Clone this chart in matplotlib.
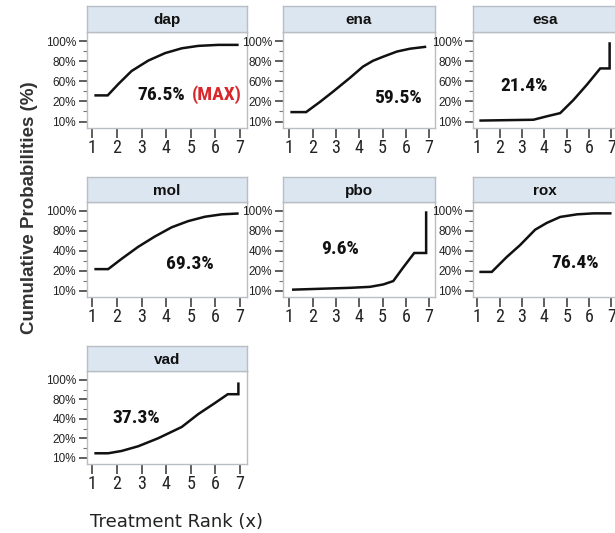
import os
import numpy as np
import matplotlib
matplotlib.use("Agg")
import matplotlib.pyplot as plt
from matplotlib import font_manager
from matplotlib.font_manager import FontProperties
from matplotlib.scale import FuncScale

# ---------------- data ----------------
treatments = ["dap", "ena", "esa", "mol", "pbo", "rox", "vad"]
sucra_labels = ["76.5%", "59.5%", "21.4%", "69.3%", "9.6%", "76.4%", "37.3%"]

ticks_a = [10, 20, 60, 80, 100]
ticks_b = [10, 20, 40, 80, 100]

rank_dap = [1.13, 1.62, 2.05, 2.59, 3.27, 3.95, 4.63, 5.30, 6.11, 6.89]
cum_dap = [32, 32, 54.4, 70.2, 80.6, 88, 92.8, 95.2, 96.2, 96.2]

rank_ena = [1.10, 1.72, 2.32, 2.88, 3.61, 4.16, 4.59, 5.02, 5.62, 6.18, 6.82]
cum_ena = [14.7, 14.7, 19.8, 39.6, 63.6, 74.6, 80.4, 84.4, 89.6, 92.4, 94.2]

rank_esa = [1.15, 3.51, 4.11, 4.71, 5.30, 5.91, 6.5, 6.92, 6.92]
cum_esa = [10.5, 10.9, 12.6, 14.2, 22.8, 53.6, 72.8, 72.8, 97.6]

rank_mol = [1.13, 1.64, 2.19, 2.86, 3.54, 4.22, 4.89, 5.57, 6.25, 6.89]
cum_mol = [21.6, 21.6, 32, 48, 68.8, 83.6, 89.8, 94.2, 96.6, 97.4]

rank_pbo = [1.17, 3.6, 4.46, 5.03, 5.46, 5.89, 6.36, 6.87, 6.87]
cum_pbo = [10.5, 11.4, 11.9, 13.1, 14.8, 23.4, 37.8, 37.8, 98.4]

rank_rox = [1.15, 1.65, 2.32, 2.91, 3.59, 4.11, 4.71, 5.46, 6.2, 6.95]
cum_rox = [19.4, 19.4, 33.8, 51.2, 81.2, 88, 94, 96.6, 97.6, 97.6]

rank_vad = [1.13, 1.64, 2.19, 2.86, 3.67, 4.63, 5.30, 5.98, 6.5, 6.93, 6.93]
cum_vad = [12.3, 12.3, 13.5, 15.9, 20, 31.6, 49.6, 72.4, 85.2, 85.2, 96]

x_ticks = [1, 2, 3, 4, 5, 6, 7]

# ---------------- fonts ----------------
names = {f.name for f in font_manager.fontManager.ttflist}
REG = "Liberation Sans" if "Liberation Sans" in names else "DejaVu Sans"
plt.rcParams["font.family"] = [REG, "DejaVu Sans"]

files = {os.path.basename(f.fname): f.fname for f in font_manager.fontManager.ttflist}


def pick(cands):
    for c in cands:
        if c in files:
            return files[c]
    return None


narrow_reg = pick(["LiberationSansNarrow-Regular.ttf", "RobotoCondensed-Regular.ttf",
                   "NotoSans-Condensed.ttf", "DejaVuSansCondensed.ttf"])
narrow_bold = pick(["LiberationSansNarrow-Bold.ttf", "RobotoCondensed-Bold.ttf",
                    "NotoSans-CondensedBold.ttf", "DejaVuSansCondensed-Bold.ttf"])


def fp_narrow(size, bold=False):
    f = narrow_bold if bold else narrow_reg
    if f is not None:
        return FontProperties(fname=f, size=size)
    return FontProperties(family=REG, size=size * 0.85,
                          weight="bold" if bold else "normal")


def make_scale(tv):
    tv = np.asarray(tv, float)
    pos = np.arange(len(tv), dtype=float)

    def fwd(v):
        v = np.asarray(v, float)
        out = np.interp(v, tv, pos)
        out = np.where(v < tv[0], (v - tv[0]) / (tv[1] - tv[0]), out)
        out = np.where(v > tv[-1], pos[-1] + (v - tv[-1]) / (tv[-1] - tv[-2]), out)
        return out

    def inv(p):
        p = np.asarray(p, float)
        out = np.interp(p, pos, tv)
        out = np.where(p < 0, tv[0] + p * (tv[1] - tv[0]), out)
        out = np.where(p > pos[-1], tv[-1] + (p - pos[-1]) * (tv[-1] - tv[-2]), out)
        return out

    return fwd, inv


W, H = 615, 533
fig = plt.figure(figsize=(W / 100, H / 100), dpi=100)


def fr(l, t, r, b):
    return [l / W, 1 - b / H, (r - l) / W, (b - t) / H]


cols = [(87, 247, 0.78, 7.28), (283, 435, 0.73, 7.25), (473, 617, 0.81, 7.25)]
rows = [(6, 32, 128), (177, 202, 297), (346, 371, 464)]

panels = [
    ("dap", rank_dap, cum_dap, ticks_a, 0, 0, (4.76, 32.8)),
    ("ena", rank_ena, cum_ena, ticks_a, 0, 1, (5.64, 26.0)),
    ("esa", rank_esa, cum_esa, ticks_a, 0, 2, (3.09, 50.8)),
    ("mol", rank_mol, cum_mol, ticks_b, 1, 0, (4.95, 26.4)),
    ("pbo", rank_pbo, cum_pbo, ticks_b, 1, 1, (3.18, 43.2)),
    ("rox", rank_rox, cum_rox, ticks_b, 1, 2, (5.36, 28.0)),
    ("vad", rank_vad, cum_vad, ticks_b, 2, 0, (2.80, 42.4)),
]

spine_col = "#b9bec4"
head_col = "#dce6f1"
ann_size = 14

for i, (name, xr, yc, tv, r, c, lab) in enumerate(panels):
    l, rr, x0, x1 = cols[c]
    ht, t, b = rows[r]
    ax = fig.add_axes(fr(l, t, rr, b))
    fwd, inv = make_scale(tv)
    ax.set_yscale(FuncScale(ax, (fwd, inv)))
    ax.plot(xr, yc, color="#111111", lw=1.8, solid_joinstyle="miter")
    ax.set_xlim(x0, x1)
    ax.set_ylim(inv(-0.32), inv(4.45))
    ax.set_yticks(tv)
    ax.set_yticklabels([f"{v}%" for v in tv], fontsize=8.5, color="#222222")
    mids = [(tv[k] + tv[k + 1]) / 2 for k in range(len(tv) - 1)]
    ax.set_yticks(mids, minor=True)
    ax.set_xticks(x_ticks)
    ax.set_xticklabels([str(v) for v in x_ticks], fontproperties=fp_narrow(13),
                       color="#222222")
    ax.tick_params(axis="y", which="major", length=6, width=1.1, color="#333333", pad=2)
    ax.tick_params(axis="y", which="minor", length=3, width=0.8, color="#777777")
    ax.tick_params(axis="x", length=7, width=1.1, color="#333333", pad=1)
    for s in ax.spines.values():
        s.set_color(spine_col)
        s.set_linewidth(1.0)
    # SUCRA annotation
    if name == "dap":
        ax.text(lab[0], lab[1], sucra_labels[i], ha="right", va="center",
                fontproperties=fp_narrow(ann_size, True), color="#111111")
        ax.text(lab[0] + 0.27, lab[1], "(MAX)", ha="left", va="center",
                fontproperties=fp_narrow(ann_size, True), color="#d9262b")
    else:
        ax.text(lab[0], lab[1], sucra_labels[i], ha="center", va="center",
                fontproperties=fp_narrow(ann_size, True), color="#111111")
    # header strip
    hx = fig.add_axes(fr(l, ht, rr, t))
    hx.set_facecolor(head_col)
    hx.set_xticks([])
    hx.set_yticks([])
    for s in hx.spines.values():
        s.set_color(spine_col)
        s.set_linewidth(1.0)
    hx.text(0.5, 0.45, name, ha="center", va="center", fontsize=11,
            fontweight="bold", color="#111111", transform=hx.transAxes)

fig.text(30 / W, 1 - 208 / H, "Cumulative Probabilities (%)", rotation=90,
         ha="center", va="center", fontsize=13.5, fontweight="bold", color="#333333")
fig.text(176 / W, 1 - 522 / H, "Treatment Rank (x)", ha="center", va="center",
         fontsize=13, family=["DejaVu Sans"], color="#222222")

fig.savefig("out.png", dpi=100, facecolor="white")
